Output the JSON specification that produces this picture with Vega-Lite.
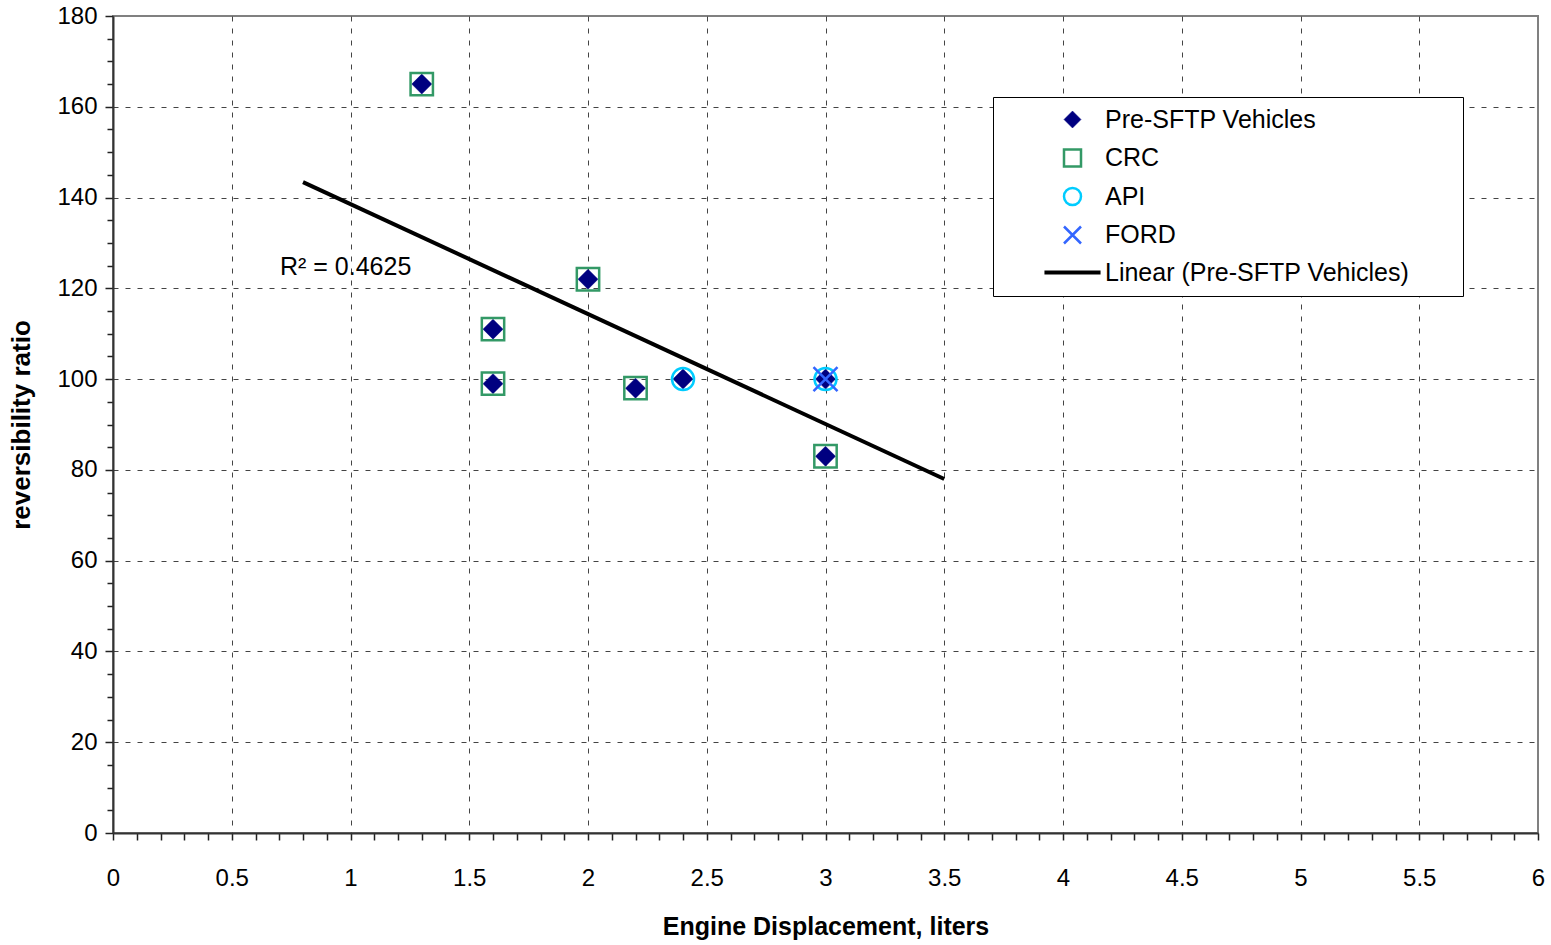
{
  "$schema": "https://vega.github.io/schema/vega-lite/v6.json",
  "autosize": {"type": "none"},
  "padding": {"left": 113, "top": 16, "right": 13, "bottom": 112},
  "width": 1425,
  "height": 817,
  "background": "white",
  "config": {
    "view": {"stroke": "#808080", "strokeWidth": 2},
    "font": "Liberation Sans",
    "axis": {
      "labelFont": "Liberation Sans",
      "labelFontSize": 24,
      "labelColor": "black",
      "titleFont": "Liberation Sans",
      "titleFontWeight": "bold",
      "titleColor": "black",
      "domainColor": "#333333",
      "domainWidth": 2,
      "tickColor": "#222222",
      "tickWidth": 1.5,
      "gridColor": "#444444",
      "gridDash": [5, 7],
      "gridWidth": 1,
      "labelOverlap": false,
      "labelFlush": false,
      "labelBound": false
    }
  },
  "datasets": {
    "pts": [
      {"series": "Pre-SFTP Vehicles", "disp": 1.3, "ratio": 165},
      {"series": "Pre-SFTP Vehicles", "disp": 2.0, "ratio": 122},
      {"series": "Pre-SFTP Vehicles", "disp": 1.6, "ratio": 111},
      {"series": "Pre-SFTP Vehicles", "disp": 1.6, "ratio": 99},
      {"series": "Pre-SFTP Vehicles", "disp": 2.2, "ratio": 98},
      {"series": "Pre-SFTP Vehicles", "disp": 2.4, "ratio": 100},
      {"series": "Pre-SFTP Vehicles", "disp": 3.0, "ratio": 100},
      {"series": "Pre-SFTP Vehicles", "disp": 3.0, "ratio": 83},
      {"series": "CRC", "disp": 1.3, "ratio": 165},
      {"series": "CRC", "disp": 2.0, "ratio": 122},
      {"series": "CRC", "disp": 1.6, "ratio": 111},
      {"series": "CRC", "disp": 1.6, "ratio": 99},
      {"series": "CRC", "disp": 2.2, "ratio": 98},
      {"series": "CRC", "disp": 3.0, "ratio": 83},
      {"series": "API", "disp": 2.4, "ratio": 100},
      {"series": "API", "disp": 3.0, "ratio": 100},
      {"series": "FORD", "disp": 3.0, "ratio": 100}
    ],
    "trend": [
      {"series": "Linear (Pre-SFTP Vehicles)", "disp": 0.8, "ratio": 143.4},
      {"series": "Linear (Pre-SFTP Vehicles)", "disp": 3.5, "ratio": 78.0}
    ]
  },
  "layer": [
    {
      "data": {"name": "pts"},
      "encoding": {
        "x": {
          "field": "disp", "type": "quantitative",
          "scale": {"domain": [0, 6], "nice": false, "zero": false},
          "axis": {
            "title": "Engine Displacement, liters",
            "titleFontSize": 25,
            "titlePadding": 24,
            "tickCount": 200,
            "values": [0,0.1,0.2,0.3,0.4,0.5,0.6,0.7,0.8,0.9,1,1.1,1.2,1.3,1.4,1.5,1.6,1.7,1.8,1.9,2,2.1,2.2,2.3,2.4,2.5,2.6,2.7,2.8,2.9,3,3.1,3.2,3.3,3.4,3.5,3.6,3.7,3.8,3.9,4,4.1,4.2,4.3,4.4,4.5,4.6,4.7,4.8,4.9,5,5.1,5.2,5.3,5.4,5.5,5.6,5.7,5.8,5.9,6],
            "labelExpr": "abs(datum.value*2-round(datum.value*2))<0.001 ? toString(round(datum.value*2)/2) : ''",
            "tickSize": 7,
            "labelPadding": 26,
            "grid": true,
            "gridOpacity": {"condition": {"test": "abs(datum.value*2-round(datum.value*2))<0.001 && datum.value>0.01 && datum.value<5.99", "value": 1}, "value": 0}
          }
        },
        "y": {
          "field": "ratio", "type": "quantitative",
          "scale": {"domain": [0, 180], "nice": false},
          "axis": {
            "title": "reversibility ratio",
            "titleFontSize": 26,
            "titlePadding": 22,
            "tickCount": 200,
            "values": [0,5,10,15,20,25,30,35,40,45,50,55,60,65,70,75,80,85,90,95,100,105,110,115,120,125,130,135,140,145,150,155,160,165,170,175,180],
            "labelExpr": "datum.value % 20 === 0 ? toString(datum.value) : ''",
            "tickSize": {"condition": {"test": "datum.value % 20 === 0", "value": 8}, "value": 6},
            "labelPadding": 8,
            "grid": true,
            "gridOpacity": {"condition": {"test": "datum.value % 20 === 0 && datum.value > 0 && datum.value < 180", "value": 1}, "value": 0}
          }
        },
        "shape": {
          "field": "series", "type": "nominal",
          "scale": {
            "domain": ["Pre-SFTP Vehicles", "CRC", "API", "FORD", "Linear (Pre-SFTP Vehicles)"],
            "range": ["diamond", "square", "circle", "M-1,-1L1,1M1,-1L-1,1", "M-3.3,0L3.3,0"]
          },
          "legend": {
            "title": "\u00a0",
            "titleOrient": "right",
            "titleFontSize": 24,
            "titlePadding": 44,
            "orient": "none",
            "legendX": 880,
            "legendY": 81,
            "padding": 10,
            "strokeColor": "black",
            "fillColor": "white",
            "labelFont": "Liberation Sans",
            "labelFontSize": 25,
            "labelColor": "black",
            "labelLimit": 600,
            "symbolSize": 289,
            "symbolOffset": 57,
            "symbolOpacity": 1,
            "labelOffset": 20,
            "rowPadding": 11.5
          }
        },
        "fill": {
          "field": "series", "type": "nominal",
          "scale": {
            "domain": ["Pre-SFTP Vehicles", "CRC", "API", "FORD", "Linear (Pre-SFTP Vehicles)"],
            "range": ["#000080", "transparent", "transparent", "transparent", "transparent"]
          }
        },
        "stroke": {
          "field": "series", "type": "nominal",
          "scale": {
            "domain": ["Pre-SFTP Vehicles", "CRC", "API", "FORD", "Linear (Pre-SFTP Vehicles)"],
            "range": ["#000080", "#339966", "#00CCFF", "#3366FF", "#000000"]
          }
        },
        "strokeWidth": {
          "field": "series", "type": "ordinal",
          "scale": {
            "type": "ordinal",
            "domain": ["Pre-SFTP Vehicles", "CRC", "API", "FORD", "Linear (Pre-SFTP Vehicles)"],
            "range": [0.5, 2.5, 2.5, 2.5, 4]
          }
        }
      },
      "layer": [
        {
          "transform": [{"filter": "datum.series === 'Pre-SFTP Vehicles'"}],
          "mark": {"type": "point", "size": 400, "opacity": 1}
        },
        {
          "transform": [{"filter": "datum.series === 'CRC'"}],
          "mark": {"type": "point", "size": 500, "opacity": 1}
        },
        {
          "transform": [{"filter": "datum.series === 'API'"}],
          "mark": {"type": "point", "size": 484, "opacity": 1}
        },
        {
          "transform": [{"filter": "datum.series === 'FORD'"}],
          "mark": {"type": "point", "size": 576, "opacity": 1}
        }
      ]
    },
    {
      "data": {"name": "trend"},
      "mark": {"type": "line", "color": "black", "strokeWidth": 4},
      "encoding": {
        "x": {"field": "disp", "type": "quantitative"},
        "y": {"field": "ratio", "type": "quantitative"}
      }
    },
    {
      "data": {"values": [{"label": "R² = 0.4625"}]},
      "mark": {"type": "text", "align": "left", "baseline": "alphabetic", "font": "Liberation Sans", "fontSize": 25, "color": "black"},
      "encoding": {
        "x": {"datum": 0.703, "type": "quantitative"},
        "y": {"datum": 122.9, "type": "quantitative"},
        "text": {"field": "label"}
      }
    }
  ]
}
